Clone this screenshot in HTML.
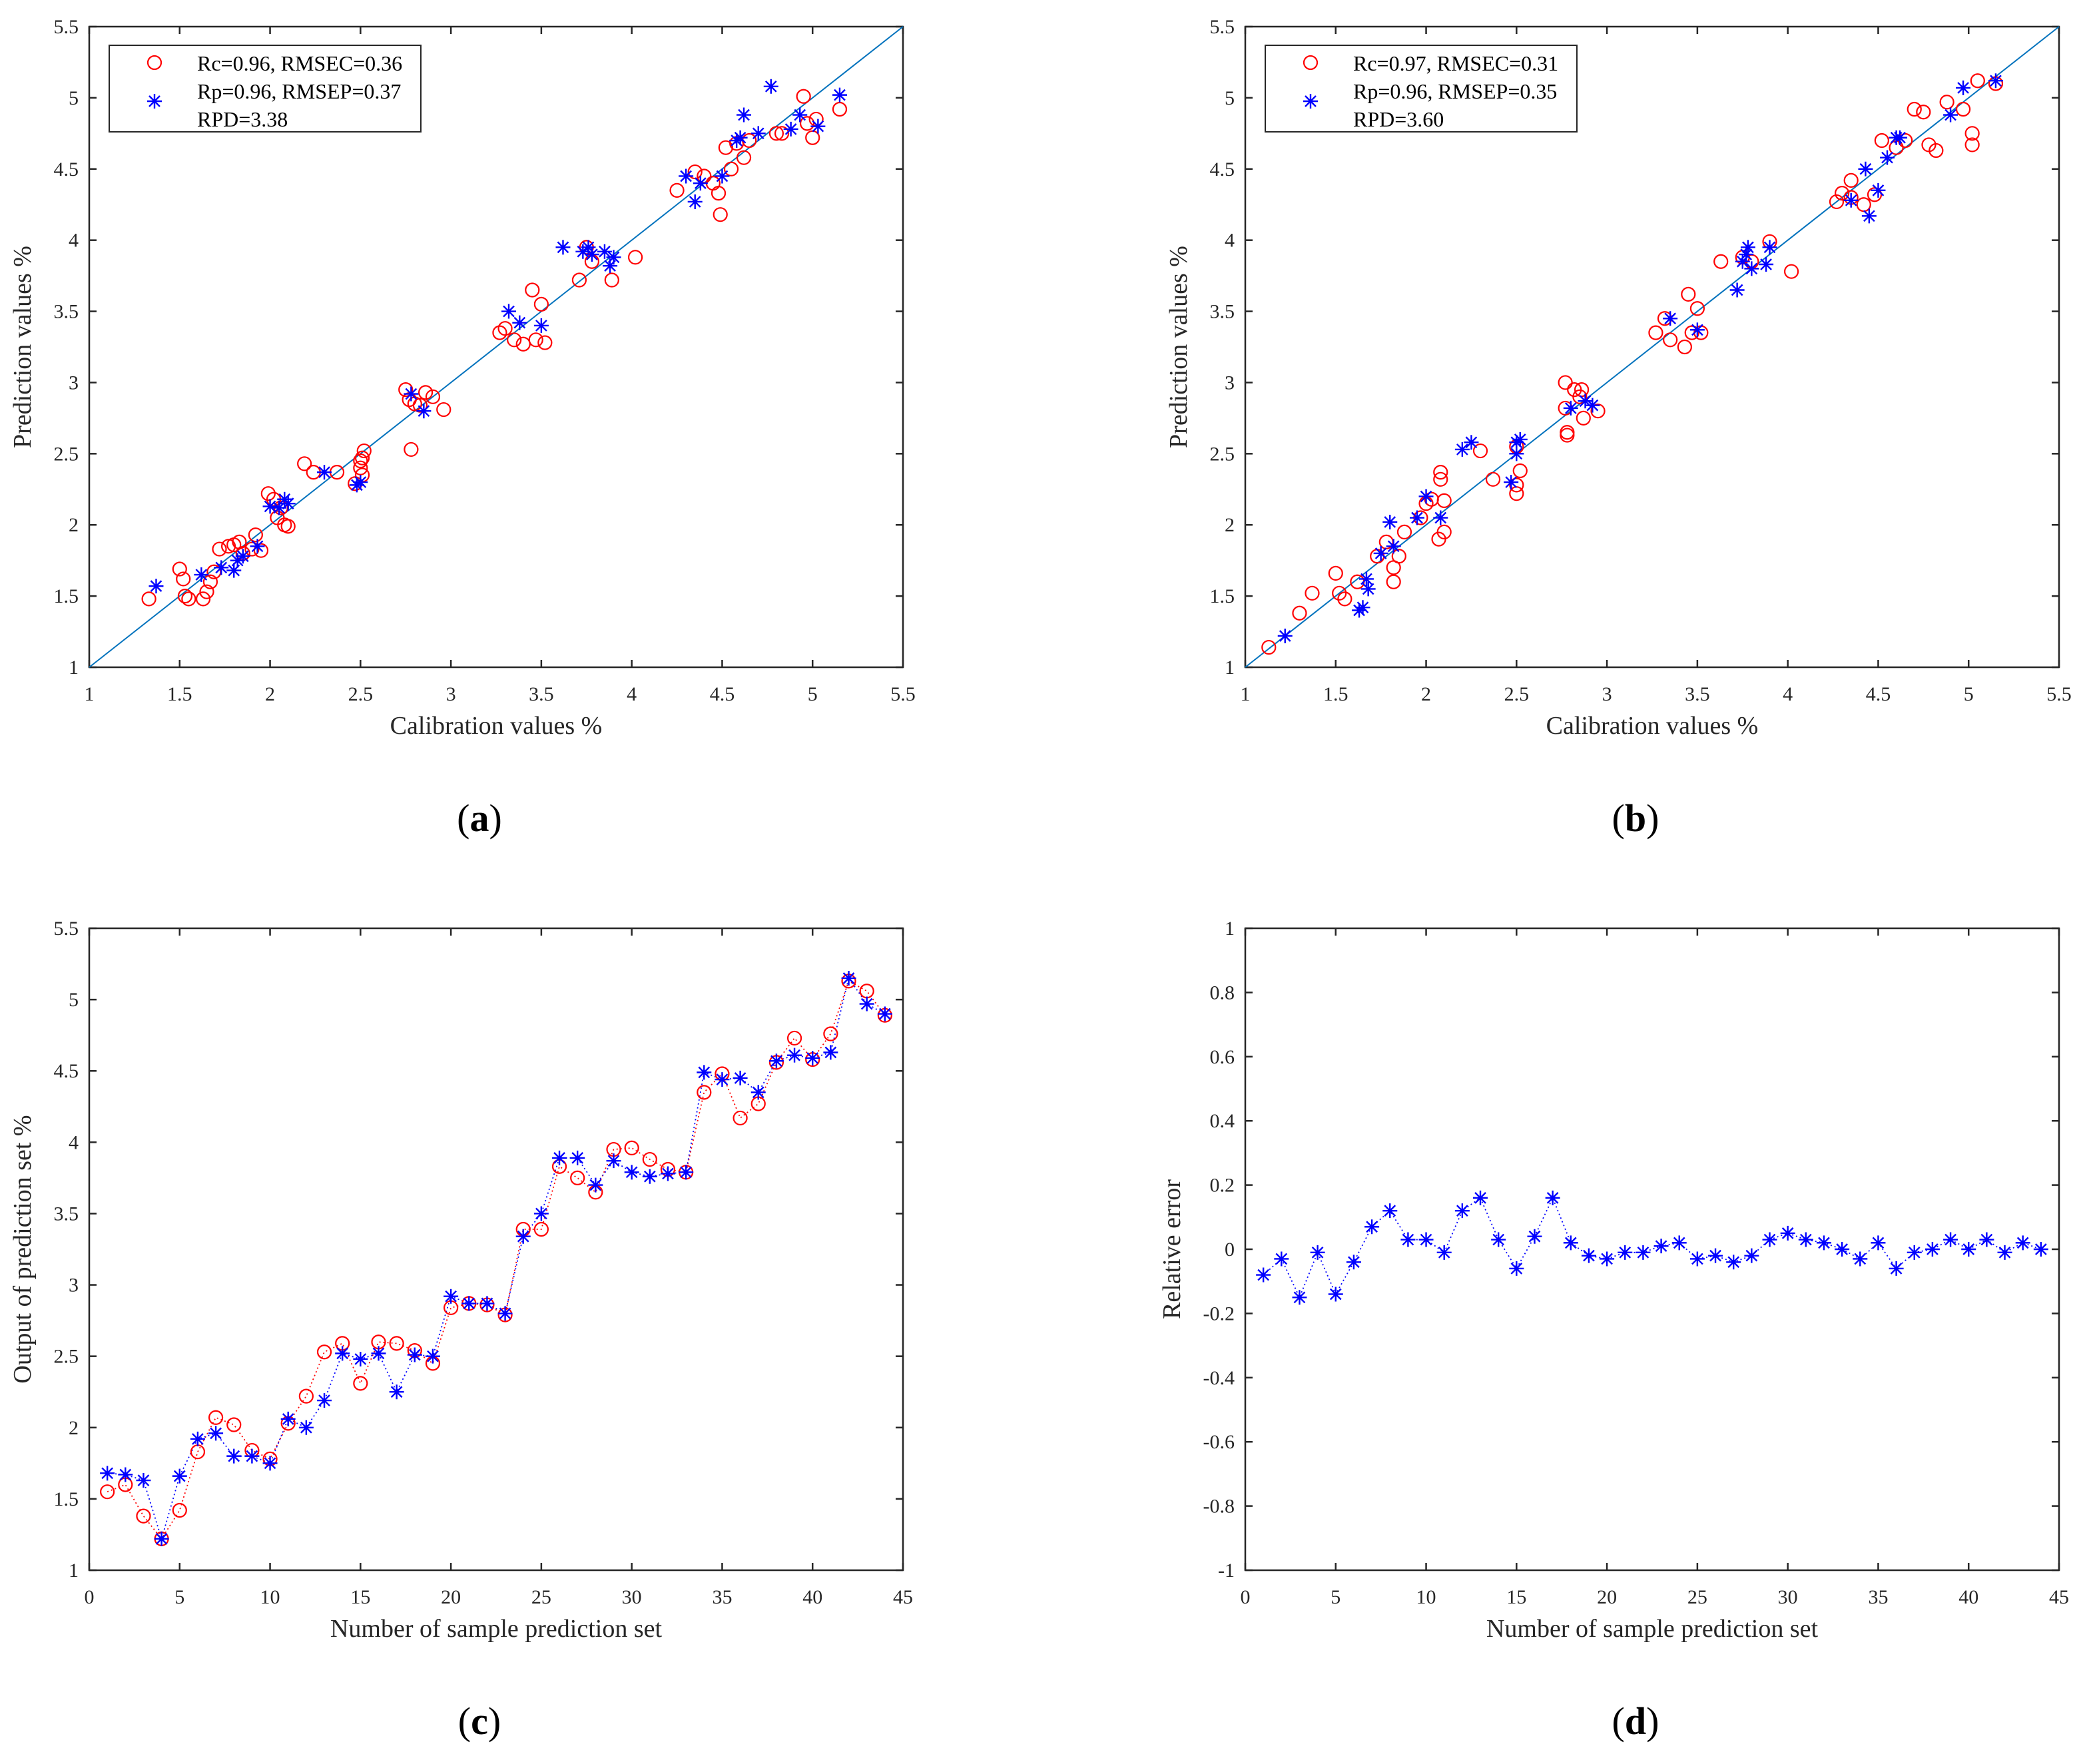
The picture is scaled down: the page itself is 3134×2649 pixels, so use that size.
<!DOCTYPE html>
<html><head><meta charset="utf-8">
<style>
html,body{margin:0;padding:0;background:#fff;}
svg{display:block;font-family:"Liberation Serif",serif;}
</style></head>
<body>
<svg id="fig" width="3134" height="2649" viewBox="0 0 3134 2649" xmlns="http://www.w3.org/2000/svg"></svg>
<script>
// Panel (a) data
const aCalX=[1.33,1.5,1.52,1.53,1.55,1.63,1.65,1.67,1.69,1.72,1.77,1.8,1.83,1.85,1.9,1.92,1.95,1.99,2.02,2.04,2.06,2.08,2.1,2.19,2.24,2.37,2.47,2.5,2.5,2.51,2.52,2.51,2.75,2.77,2.78,2.8,2.83,2.86,2.9,2.96,3.27,3.3,3.35,3.4,3.45,3.47,3.5,3.52,3.71,3.75,3.78,3.89,4.02,4.25,4.35,4.4,4.45,4.48,4.49,4.52,4.55,4.58,4.62,4.65,4.8,4.83,4.95,4.97,5.0,5.02,5.15];
const aCalY=[1.48,1.69,1.62,1.5,1.48,1.48,1.53,1.6,1.67,1.83,1.85,1.86,1.88,1.8,1.83,1.93,1.82,2.22,2.18,2.05,2.12,2.0,1.99,2.43,2.37,2.37,2.29,2.4,2.45,2.47,2.52,2.35,2.95,2.88,2.53,2.85,2.84,2.93,2.9,2.81,3.35,3.38,3.3,3.27,3.65,3.3,3.55,3.28,3.72,3.95,3.85,3.72,3.88,4.35,4.48,4.45,4.4,4.33,4.18,4.65,4.5,4.68,4.58,4.7,4.75,4.75,5.01,4.82,4.72,4.85,4.92];
const aPreX=[1.37,1.62,1.73,1.8,1.82,1.85,1.93,2.0,2.05,2.08,2.1,2.3,2.48,2.5,2.78,2.85,3.32,3.38,3.5,3.62,3.73,3.76,3.78,3.85,3.88,3.9,4.3,4.35,4.38,4.5,4.58,4.6,4.62,4.7,4.77,4.88,4.93,5.03,5.15];
const aPreY=[1.57,1.65,1.7,1.68,1.75,1.78,1.85,2.13,2.12,2.18,2.15,2.37,2.28,2.3,2.92,2.8,3.5,3.42,3.4,3.95,3.92,3.95,3.9,3.92,3.82,3.88,4.45,4.27,4.4,4.45,4.7,4.72,4.88,4.75,5.08,4.78,4.88,4.8,5.02];
// Panel (b) data
const bCalX=[1.13,1.3,1.37,1.5,1.52,1.55,1.62,1.73,1.78,1.82,1.82,1.85,1.88,1.97,2.0,2.03,2.08,2.08,2.1,2.1,2.07,2.3,2.37,2.5,2.5,2.5,2.52,2.77,2.77,2.78,2.78,2.82,2.85,2.86,2.87,2.95,3.27,3.32,3.35,3.43,3.45,3.47,3.5,3.52,3.63,3.75,3.8,3.9,4.02,4.27,4.3,4.35,4.35,4.42,4.48,4.52,4.6,4.65,4.7,4.75,4.78,4.82,4.88,4.97,5.02,5.02,5.05,5.15];
const bCalY=[1.14,1.38,1.52,1.66,1.52,1.48,1.6,1.78,1.88,1.7,1.6,1.78,1.95,2.05,2.15,2.18,2.32,2.37,2.17,1.95,1.9,2.52,2.32,2.55,2.28,2.22,2.38,3.0,2.82,2.65,2.63,2.95,2.9,2.95,2.75,2.8,3.35,3.45,3.3,3.25,3.62,3.35,3.52,3.35,3.85,3.88,3.85,3.99,3.78,4.27,4.33,4.42,4.3,4.25,4.32,4.7,4.65,4.7,4.92,4.9,4.67,4.63,4.97,4.92,4.75,4.67,5.12,5.1];
const bPreX=[1.22,1.63,1.65,1.67,1.68,1.75,1.8,1.82,1.95,2.0,2.08,2.2,2.25,2.47,2.5,2.5,2.52,2.8,2.88,2.92,3.35,3.5,3.72,3.75,3.77,3.78,3.8,3.88,3.9,4.35,4.43,4.45,4.5,4.55,4.6,4.62,4.9,4.97,5.15];
const bPreY=[1.22,1.4,1.42,1.62,1.55,1.8,2.02,1.85,2.05,2.2,2.05,2.53,2.58,2.3,2.5,2.58,2.6,2.82,2.87,2.84,3.45,3.37,3.65,3.85,3.9,3.95,3.8,3.83,3.95,4.28,4.5,4.17,4.35,4.58,4.72,4.72,4.88,5.07,5.12];
// Panel (c) data
const cMeasured=[1.55,1.6,1.38,1.22,1.42,1.83,2.07,2.02,1.84,1.78,2.03,2.22,2.53,2.59,2.31,2.6,2.59,2.54,2.45,2.84,2.87,2.86,2.79,3.39,3.39,3.83,3.75,3.65,3.95,3.96,3.88,3.81,3.79,4.35,4.48,4.17,4.27,4.56,4.73,4.58,4.76,5.13,5.06,4.89];
const cPredicted=[1.68,1.67,1.63,1.22,1.66,1.92,1.96,1.8,1.8,1.75,2.06,2.0,2.19,2.52,2.48,2.52,2.25,2.51,2.5,2.92,2.87,2.87,2.8,3.34,3.5,3.89,3.89,3.7,3.87,3.79,3.76,3.78,3.79,4.49,4.44,4.45,4.35,4.57,4.61,4.59,4.63,5.15,4.97,4.9];
// Panel (d) data
const dRelErr=[-0.08,-0.03,-0.15,-0.01,-0.14,-0.04,0.07,0.12,0.03,0.03,-0.01,0.12,0.16,0.03,-0.06,0.04,0.16,0.02,-0.02,-0.03,-0.01,-0.01,0.01,0.02,-0.03,-0.02,-0.04,-0.02,0.03,0.05,0.03,0.02,0.0,-0.03,0.02,-0.06,-0.01,0.0,0.03,0.0,0.03,-0.01,0.02,0.0];
// Tick labels
const ticks15=[1,1.5,2,2.5,3,3.5,4,4.5,5,5.5];
const ticksN=[0,5,10,15,20,25,30,35,40,45];
const ticksErr=[-1,-0.8,-0.6,-0.4,-0.2,0,0.2,0.4,0.6,0.8,1];

const NS='http://www.w3.org/2000/svg';
const fig=document.getElementById('fig');
function mk(tag,attrs,parent){const e=document.createElementNS(NS,tag);for(const k in attrs)e.setAttribute(k,attrs[k]);(parent||fig).appendChild(e);return e;}

function makeAxes(L,T,R,B,xmin,xmax,ymin,ymax,xt,yt,xlabel,ylabel,ylabX,name){
  const g=mk('g',{});
  
  
  const sx=v=>L+(v-xmin)/(xmax-xmin)*(R-L);
  const sy=v=>B-(v-ymin)/(ymax-ymin)*(B-T);
  const box=mk('rect',{x:L,y:T,width:R-L,height:B-T,fill:'none',stroke:'#262626','stroke-width':2.5},g);
  
  
  xt.forEach(v=>{const x=sx(v);
    mk('line',{x1:x,y1:B,x2:x,y2:B-11,stroke:'#262626','stroke-width':2.5},g);
    mk('line',{x1:x,y1:T,x2:x,y2:T+11,stroke:'#262626','stroke-width':2.5},g);
    const t=mk('text',{x:x,y:B+50,'font-size':30,'text-anchor':'middle',fill:'#262626'},g);t.textContent=String(v);
    
    
  });
  yt.forEach(v=>{const y=sy(v);
    mk('line',{x1:L,y1:y,x2:L+11,y2:y,stroke:'#262626','stroke-width':2.5},g);
    mk('line',{x1:R,y1:y,x2:R-11,y2:y,stroke:'#262626','stroke-width':2.5},g);
    const t=mk('text',{x:L-16,y:y+10,'font-size':30,'text-anchor':'end',fill:'#262626'},g);t.textContent=String(v);
    
    
  });
  const xl=mk('text',{x:(L+R)/2,y:B+100,'font-size':38,'text-anchor':'middle',fill:'#262626'},g);xl.textContent=xlabel;
  
  
  const yl=mk('text',{x:ylabX,y:(T+B)/2,'font-size':38,'text-anchor':'middle',fill:'#262626',transform:`rotate(-90 ${ylabX} ${(T+B)/2})`},g);yl.textContent=ylabel;
  
  
  return {g,sx,sy};
}
function circle(g,x,y){const c=mk('circle',{cx:x,cy:y,r:10,fill:'none',stroke:'#ff0000','stroke-width':2.2},g);
  
  return c;}
function star(g,x,y){const s=mk('path',{d:`M${x-11} ${y}H${x+11}M${x} ${y-11}V${y+11}M${x-8} ${y-8}L${x+8} ${y+8}M${x-8} ${y+8}L${x+8} ${y-8}`,stroke:'#0000ff','stroke-width':2.4,fill:'none'},g);
  
  return s;}
function legend(x,y,w,h,l1,l2,l3){
  const g=mk('g',{});
  
  
  mk('rect',{x:x,y:y,width:w,height:h,fill:'#fff',stroke:'#262626','stroke-width':2},g);
  circle(g,x+68,y+26);star(g,x+68,y+84);
  [l1,l2,l3].forEach((s,i)=>{const t=mk('text',{x:x+132,y:y+38+i*42,'font-size':32,fill:'#000'},g);t.textContent=s;
    
    });
}
function panelLabel(x,y,s){const t=mk('text',{x:x,y:y,'font-size':58,'text-anchor':'middle',fill:'#000'});
  t.innerHTML=`(<tspan font-weight="bold">${s}</tspan>)`;
  
  }

// (a)
let A=makeAxes(134,40,1356,1002,1,5.5,1,5.5,ticks15,ticks15,'Calibration values %','Prediction values %',46,'panel-a');
let d=mk('line',{x1:A.sx(1),y1:A.sy(1),x2:A.sx(5.5),y2:A.sy(5.5),stroke:'#0072bd','stroke-width':2},A.g);


aCalX.forEach((v,i)=>circle(A.g,A.sx(v),A.sy(aCalY[i])));
aPreX.forEach((v,i)=>star(A.g,A.sx(v),A.sy(aPreY[i])));
legend(164,68,468,130,'Rc=0.96, RMSEC=0.36','Rp=0.96, RMSEP=0.37','RPD=3.38');
panelLabel(720,1248,'a');
// (b)
let Bp=makeAxes(1870,40,3092,1002,1,5.5,1,5.5,ticks15,ticks15,'Calibration values %','Prediction values %',1782,'panel-b');
d=mk('line',{x1:Bp.sx(1),y1:Bp.sy(1),x2:Bp.sx(5.5),y2:Bp.sy(5.5),stroke:'#0072bd','stroke-width':2},Bp.g);


bCalX.forEach((v,i)=>circle(Bp.g,Bp.sx(v),Bp.sy(bCalY[i])));
bPreX.forEach((v,i)=>star(Bp.g,Bp.sx(v),Bp.sy(bPreY[i])));
legend(1900,68,468,130,'Rc=0.97, RMSEC=0.31','Rp=0.96, RMSEP=0.35','RPD=3.60');
panelLabel(2456,1248,'b');
// (c)
let C=makeAxes(134,1394,1356,2358,0,45,1,5.5,ticksN,ticks15,'Number of sample prediction set','Output of prediction set %',46,'panel-c');
let pr=mk('polyline',{points:cMeasured.map((v,i)=>C.sx(i+1)+','+C.sy(v)).join(' '),fill:'none',stroke:'#ff0000','stroke-width':1.8,'stroke-dasharray':'2 4'},C.g);


let pb=mk('polyline',{points:cPredicted.map((v,i)=>C.sx(i+1)+','+C.sy(v)).join(' '),fill:'none',stroke:'#0000ff','stroke-width':1.8,'stroke-dasharray':'2 4'},C.g);


cMeasured.forEach((v,i)=>circle(C.g,C.sx(i+1),C.sy(v)));
cPredicted.forEach((v,i)=>star(C.g,C.sx(i+1),C.sy(v)));
panelLabel(720,2604,'c');
// (d)
let D=makeAxes(1870,1394,3092,2358,0,45,-1,1,ticksN,ticksErr,'Number of sample prediction set','Relative error',1772,'panel-d');
let pd=mk('polyline',{points:dRelErr.map((v,i)=>D.sx(i+1)+','+D.sy(v)).join(' '),fill:'none',stroke:'#0000ff','stroke-width':1.8,'stroke-dasharray':'2 4'},D.g);


dRelErr.forEach((v,i)=>star(D.g,D.sx(i+1),D.sy(v)));
panelLabel(2456,2604,'d');
</script>
</body></html>
